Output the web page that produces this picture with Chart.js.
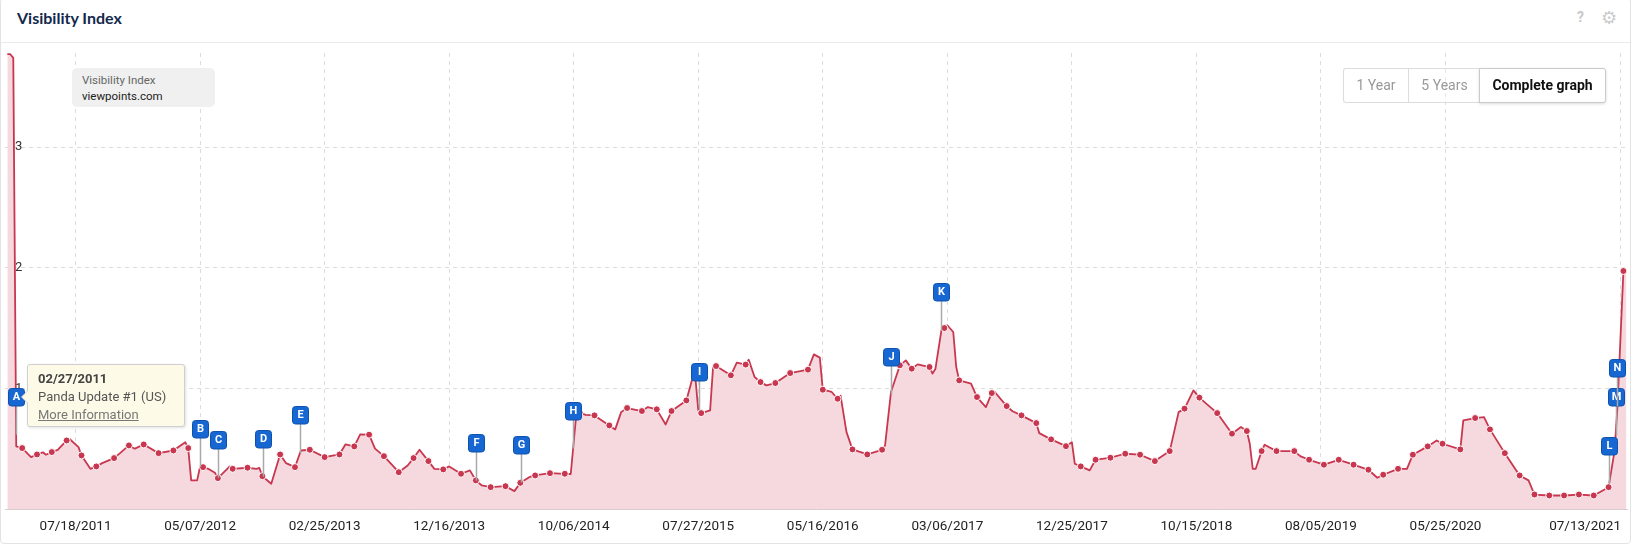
<!DOCTYPE html>
<html>
<head>
<meta charset="utf-8">
<title>Visibility Index</title>
<script src="https://cdn.jsdelivr.net/npm/chart.js@4.4.1/dist/chart.umd.min.js"></script>
<style>
  body { margin: 0; background: #fff; font-family: Roboto, "Noto Sans", sans-serif; }
  #wrap { position: relative; width: 1632px; height: 545px; overflow: hidden; }
  #frame { position: absolute; left: 0; top: -2px; width: 1631px; height: 546px; box-sizing: border-box;
           border: 1px solid #e3e3e3; border-radius: 4px; }
  #hline { position: absolute; left: 1px; top: 42px; width: 1629px; height: 1px; background: #ebebeb; }
  #title { position: absolute; left: 17px; top: 8px; font: bold 16px Lato, sans-serif; line-height: 20px; color: #13294b; }
  #help { position: absolute; left: 1577px; top: 9px; font: bold 14px Roboto, sans-serif; color: #c8c8c8; }
  #gear { position: absolute; left: 1601px; top: 7px; font: 18px "DejaVu Sans", sans-serif; color: #cbcbcb; }
  canvas { position: absolute; left: 0; top: 0; }
  #legend { position: absolute; left: 72px; top: 68px; width: 143px; height: 39px; box-sizing: border-box;
            background: #f0f0f0; border-radius: 5px; padding: 4px 0 0 10px; font-size: 11.5px; line-height: 16px; }
  #legend .k { color: #666; }
  #legend .v { color: #222; }
  .btn { position: absolute; top: 68px; height: 35px; box-sizing: border-box; border: 1px solid #dcdcdc;
         font-size: 14px; line-height: 33px; text-align: center; color: #999; background: rgba(255,255,255,0.35); }
  #b1 { left: 1343px; width: 65px; border-right: none; border-radius: 3px 0 0 3px; }
  #b2 { left: 1408px; width: 72px; border-right: none; }
  #b3 { left: 1479px; width: 127px; border-color: #cacaca; border-radius: 0 3px 3px 0; background: #fff;
        color: #111; font-weight: bold; box-shadow: 0 1px 3px rgba(0,0,0,0.14); }
  #tip { position: absolute; left: 27px; top: 364px; width: 158px; height: 63px; box-sizing: border-box;
         background: #fefae8; border: 1px solid #cfcfcf; border-radius: 3px; padding: 5px 0 0 10px;
         font-size: 13px; line-height: 18px; color: #555; box-shadow: 1px 1px 3px rgba(0,0,0,0.12); }
  #tip:before { content: ""; position: absolute; left: -7px; top: 25px; border: 7px solid transparent;
                border-left: none; border-right-color: #cfcfcf; }
  #tip:after { content: ""; position: absolute; left: -6px; top: 26px; border: 6px solid transparent;
               border-left: none; border-right-color: #fefae8; }
  #tip .d { font-weight: bold; color: #444; }
  #tip .m { color: #777; text-decoration: underline; }
</style>
</head>
<body>
<div id="wrap">
  <div id="frame"></div>
  <div id="title">Visibility Index</div>
  <div id="help">?</div>
  <div id="gear">&#9881;</div>
  <div id="hline"></div>
  <canvas id="chart" width="1632" height="545"></canvas>
  <div id="legend"><div class="k">Visibility Index</div><div class="v">viewpoints.com</div></div>
  <div class="btn" id="b1">1 Year</div>
  <div class="btn" id="b2">5 Years</div>
  <div class="btn" id="b3">Complete graph</div>
  <div id="tip">
    <div class="d">02/27/2011</div>
    <div>Panda Update #1 (US)</div>
    <div class="m">More Information</div>
  </div>
</div>
<script>
// weeks are counted from Monday 02/07/2011
const BASE = Date.UTC(2011, 1, 7);
const WEEK = 7 * 24 * 3600 * 1000;

// weekly points that carry a marker
const markerWeeks = [5, 10, 15, 20, 25, 30, 36, 41, 46, 51, 56, 61, 66, 71, 76, 81, 86, 92, 97, 102,
  107, 112, 117, 122, 127, 132, 137, 142, 147, 153, 158, 163, 168, 173, 178, 183, 188, 193, 198, 203,
  209, 214, 219, 224, 229, 234, 239, 244, 249, 254, 259, 264, 270, 275, 280, 285, 290, 295, 301, 305,
  311, 316, 321, 327, 332, 337, 342, 347, 352, 357, 362, 367, 372, 377, 382, 387, 392, 397, 402, 408,
  413, 418, 423, 428, 434, 439, 444, 449, 454, 459, 464, 469, 474, 479, 484, 490, 495, 500, 505, 510,
  515, 520, 525, 530, 535, 540, 545];
const markerValues = [0.505, 0.452, 0.472, 0.568, 0.444, 0.353, 0.422, 0.527, 0.535, 0.463, 0.485, 0.505,
  0.347, 0.256, 0.333, 0.342, 0.272, 0.452, 0.347, 0.491, 0.43, 0.452, 0.519, 0.616, 0.438, 0.305,
  0.422, 0.397, 0.328, 0.292, 0.237, 0.181, 0.189, 0.217, 0.278, 0.297, 0.292, 0.8, 0.776, 0.693,
  0.837, 0.812, 0.826, 0.812, 0.9, 0.795, 1.185, 1.108, 1.197, 1.052, 1.044, 1.127, 1.155, 0.989,
  0.914, 0.494, 0.452, 0.491, 1.191, 1.163, 1.177, 1.5, 1.066, 0.928, 0.961, 0.853, 0.776, 0.712,
  0.577, 0.521, 0.353, 0.408, 0.425, 0.458, 0.45, 0.397, 0.48, 0.832, 0.923, 0.795, 0.624, 0.646,
  0.48, 0.48, 0.48, 0.408, 0.367, 0.408, 0.367, 0.325, 0.284, 0.333, 0.45, 0.519, 0.541, 0.494,
  0.754, 0.66, 0.463, 0.278, 0.12, 0.112, 0.112, 0.12, 0.112, 0.181, 1.973];

// weekly points in between, without a marker
const lineWeeks = [0, 1, 2, 3, 8, 12, 13, 17, 21, 24, 28, 32, 38, 43, 60, 62, 64, 65, 68, 70, 75, 84, 85,
  88, 89, 94, 99, 114, 119, 124, 135, 139, 144, 149, 156, 160, 171, 176, 190, 192, 195, 205, 207,
  216, 222, 231, 232, 233, 237, 238, 246, 250, 252, 256, 272, 274, 278, 281, 283, 296, 298, 303,
  307, 312, 313, 315, 317, 319, 320, 325, 330, 333, 339, 348, 359, 360, 365, 395, 400, 416, 419,
  420, 421, 424, 436, 462, 472, 482, 491, 498, 513, 541, 542, 543, 546];
const lineValues = [3.77, 3.77, 3.74, 0.52, 0.43, 0.47, 0.45, 0.49, 0.58, 0.513, 0.333, 0.38, 0.463, 0.5,
  0.554, 0.237, 0.237, 0.35, 0.33, 0.3, 0.353, 0.333, 0.34, 0.23, 0.209, 0.38, 0.485, 0.535, 0.618,
  0.5, 0.361, 0.491, 0.333, 0.353, 0.32, 0.195, 0.148, 0.264, 0.29, 0.817, 0.78, 0.66, 0.803, 0.845,
  0.701, 1.08, 1.1, 0.82, 0.817, 1.177, 1.213, 1.238, 1.094, 1.025, 1.282, 1.255, 0.97, 0.94, 0.637,
  0.527, 0.97, 1.232, 1.199, 1.122, 1.163, 1.48, 1.523, 1.467, 1.177, 1.039, 0.845, 0.97, 0.81,
  0.629, 0.554, 0.375, 0.32, 0.803, 0.983, 0.679, 0.541, 0.333, 0.333, 0.533, 0.438, 0.259, 0.333,
  0.568, 0.734, 0.762, 0.237, 0.33, 0.48, 0.85, 1.96];

const tickLabels = ['07/18/2011', '05/07/2012', '02/25/2013', '12/16/2013', '10/06/2014', '07/27/2015',
  '05/16/2016', '03/06/2017', '12/25/2017', '10/15/2018', '08/05/2019', '05/25/2020', '07/13/2021'];
const yTickValues = [0, 1, 2, 3];

// Google updates shown as flags on the series
const eventLetters = ['A', 'B', 'C', 'D', 'E', 'F', 'G', 'H', 'I', 'J', 'K', 'L', 'M', 'N'];
const eventWeeks = [2.97, 65, 71.1, 86.2, 98.7, 158.1, 173.1, 190.8, 233.1, 297.9, 315, 540.2, 542.36, 543];

const toWeek = s => {
  const [m, d, y] = s.split('/').map(Number);
  return (Date.UTC(y, m - 1, d) - BASE) / WEEK;
};
const tickWeeks = tickLabels.map(toWeek);

const markerPoints = markerWeeks.map((w, i) => ({ x: w, y: markerValues[i] }));
const seriesPoints = markerPoints
  .concat(lineWeeks.map((w, i) => ({ x: w, y: lineValues[i] })))
  .sort((a, b) => a.x - b.x);

const seriesAt = w => {
  for (let i = 0; i < seriesPoints.length - 1; i++) {
    const a = seriesPoints[i], b = seriesPoints[i + 1];
    if (w >= a.x && w <= b.x) return a.y + (b.y - a.y) * (w - a.x) / (b.x - a.x);
  }
  return seriesPoints[seriesPoints.length - 1].y;
};

const RED = '#c8374f';

const roundBox = (ctx, x, y, w, h, r) => {
  ctx.beginPath();
  ctx.moveTo(x + r, y);
  ctx.lineTo(x + w - r, y);
  ctx.quadraticCurveTo(x + w, y, x + w, y + r);
  ctx.lineTo(x + w, y + h - r);
  ctx.quadraticCurveTo(x + w, y + h, x + w - r, y + h);
  ctx.lineTo(x + r, y + h);
  ctx.quadraticCurveTo(x, y + h, x, y + h - r);
  ctx.lineTo(x, y + r);
  ctx.quadraticCurveTo(x, y, x + r, y);
  ctx.closePath();
};

const overlay = {
  id: 'overlay',
  beforeDatasetsDraw(chart) {
    const { ctx, scales: { y }, chartArea } = chart;
    ctx.save();
    ctx.font = '13px Roboto';
    ctx.fillStyle = '#333';
    ctx.textAlign = 'left';
    ctx.textBaseline = 'middle';
    yTickValues.filter(v => v > 0).forEach(v => ctx.fillText(String(v), chartArea.left + 10, y.getPixelForValue(v)));
    ctx.restore();
  },
  afterDatasetsDraw(chart) {
    const { ctx, scales: { x, y }, chartArea } = chart;
    ctx.save();
    eventWeeks.forEach((w, i) => {
      const px = Math.round(x.getPixelForValue(w)) + 0.5;
      const py = y.getPixelForValue(Math.min(seriesAt(w), y.max));
      const cy = Math.round(py - 38);
      let bx = Math.round(px - 8.5);
      if (bx + 17 > chartArea.right - 1) bx = chartArea.right - 18;
      ctx.strokeStyle = '#a9a9a9';
      ctx.lineWidth = 1.5;
      ctx.beginPath();
      ctx.moveTo(px, cy + 9);
      ctx.lineTo(px, py);
      ctx.stroke();
      roundBox(ctx, bx + 0.5, cy - 8.5, 16, 17.5, 3);
      ctx.fillStyle = '#1767d3';
      ctx.fill();
      ctx.strokeStyle = '#0f52ad';
      ctx.lineWidth = 1;
      ctx.stroke();
      ctx.fillStyle = '#fff';
      ctx.font = 'bold 11px Roboto';
      ctx.textAlign = 'center';
      ctx.textBaseline = 'middle';
      ctx.fillText(eventLetters[i], bx + 8.5, cy + 0.5);
    });
    ctx.restore();
  },
  afterDraw(chart) {
    const { ctx, scales: { x }, chartArea } = chart;
    ctx.save();
    ctx.font = '13.5px Roboto';
    ctx.fillStyle = '#222';
    ctx.textBaseline = 'middle';
    ctx.textAlign = 'left';
    tickWeeks.forEach((w, i) => {
      const tw = ctx.measureText(tickLabels[i]).width;
      let lx = x.getPixelForValue(w) - tw / 2;
      lx = Math.min(lx, chartArea.right - 6 - tw);
      ctx.fillText(tickLabels[i], lx, chartArea.bottom + 18);
    });
    ctx.restore();
  }
};

new Chart(document.getElementById('chart'), {
  type: 'line',
  data: {
    datasets: [
      {
        data: markerPoints,
        showLine: false,
        pointRadius: 3.5,
        pointBorderWidth: 1,
        pointBorderColor: '#fff',
        pointBackgroundColor: RED,
        order: 0
      },
      {
        data: seriesPoints,
        borderColor: RED,
        borderWidth: 1.8,
        borderJoinStyle: 'round',
        backgroundColor: '#f5d9de',
        fill: 'origin',
        pointRadius: 0,
        tension: 0,
        order: 1
      }
    ]
  },
  options: {
    responsive: false,
    animation: false,
    events: [],
    layout: { padding: { left: 1, right: 2, top: 53, bottom: 36 } },
    plugins: { legend: { display: false }, tooltip: { enabled: false } },
    scales: {
      x: {
        type: 'linear',
        min: -0.79,
        max: 546.21,
        afterBuildTicks: scale => { scale.ticks = tickWeeks.map(v => ({ value: v })); },
        afterFit: scale => { scale.height = 0; },
        ticks: { display: false },
        grid: { color: '#dcdcdc', drawTicks: false },
        border: { display: true, color: '#d9cdd0', width: 1, dash: [4, 4] }
      },
      y: {
        min: 0,
        max: 3.78,
        afterBuildTicks: scale => { scale.ticks = yTickValues.map(v => ({ value: v })); },
        afterFit: scale => { scale.width = 0; },
        ticks: { display: false },
        grid: { color: c => (c.tick && c.tick.value === 0 ? 'rgba(0,0,0,0)' : '#dcdcdc'), drawTicks: false },
        border: { display: false, dash: [4, 4] }
      }
    }
  },
  plugins: [overlay]
});
</script>
</body>
</html>
